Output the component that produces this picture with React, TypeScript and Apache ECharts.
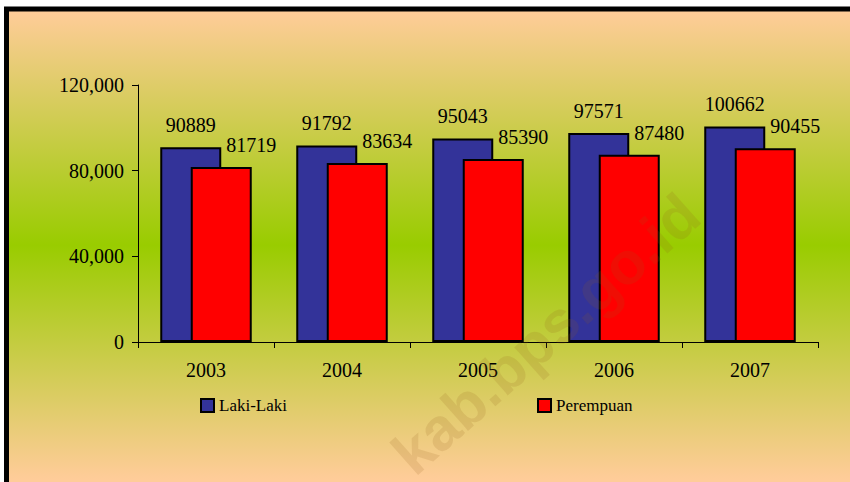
import React, { useEffect, useRef } from "react";
import * as echarts from "echarts";

const years = ["2003", "2004", "2005", "2006", "2007"];
const lakiLaki = [90889, 91792, 95043, 97571, 100662];
const perempuan = [81719, 83634, 85390, 87480, 90455];
const seriesNames = ["Laki-Laki", "Perempuan"];
const yTicks = { min: 0, max: 120000, interval: 40000 };
const watermarkText = "kab.bps.go.id";

const SERIF = "Liberation Serif";

export default function App() {
  const ref = useRef<HTMLDivElement>(null);
  useEffect(() => {
    if (!ref.current) return;
    const chart = echarts.init(ref.current, undefined, { renderer: "svg" });
    const bg = new echarts.graphic.LinearGradient(
      0, 11, 0, 479,
      [
        { offset: 0, color: "#FFCC99" },
        { offset: 0.5, color: "#99CC00" },
        { offset: 1, color: "#FFCC99" },
      ],
      true
    );
    const legendText = { fontFamily: SERIF, fontSize: 17, color: "#000" };
    chart.setOption({
      animation: false,
      backgroundColor: "#ffffff",
      textStyle: { fontFamily: SERIF, color: "#000" },
      graphic: [
        {
          type: "rect",
          z: -10,
          silent: true,
          shape: { x: 9, y: 11, width: 900, height: 500 },
          style: { fill: bg },
        },
        {
          type: "rect",
          z: -9,
          silent: true,
          shape: { x: 6.5, y: 9, width: 900, height: 600 },
          style: { fill: "none", stroke: "#000", lineWidth: 5 },
        },
        {
          type: "text",
          z: 100,
          silent: true,
          x: 546,
          y: 334,
          rotation: (41.6 * Math.PI) / 180,
          style: {
            text: watermarkText,
            font: "bold 60px 'Liberation Sans', Arial, sans-serif",
            fill: "rgba(150, 95, 30, 0.15)",
            align: "center",
            verticalAlign: "middle",
          },
        },
      ],
      grid: { left: 138, right: 32, top: 85, bottom: 140, containLabel: false },
      legend: [
        {
          data: [seriesNames[0]],
          left: 200,
          top: 397,
          itemWidth: 13,
          itemHeight: 13,
          icon: "rect",
          itemStyle: { borderColor: "#000", borderWidth: 2 },
          textStyle: legendText,
          padding: 0,
        },
        {
          data: [seriesNames[1]],
          left: 537,
          top: 397,
          itemWidth: 13,
          itemHeight: 13,
          icon: "rect",
          itemStyle: { borderColor: "#000", borderWidth: 2 },
          textStyle: legendText,
          padding: 0,
        },
      ],
      xAxis: {
        type: "category",
        data: years,
        axisLine: { lineStyle: { color: "#000", width: 1 } },
        axisTick: { show: true, length: 6, lineStyle: { color: "#000" } },
        axisLabel: { fontFamily: SERIF, fontSize: 20, color: "#000", margin: 18 },
      },
      yAxis: {
        type: "value",
        min: yTicks.min,
        max: yTicks.max,
        interval: yTicks.interval,
        splitLine: { show: false },
        axisLine: { show: true, lineStyle: { color: "#000", width: 1 } },
        axisTick: { show: true, length: 6, lineStyle: { color: "#000" } },
        axisLabel: {
          fontFamily: SERIF,
          fontSize: 20,
          color: "#000",
          margin: 14,
          formatter: (v: number) => v.toLocaleString("en-US"),
        },
      },
      series: [
        {
          name: seriesNames[0],
          type: "bar",
          data: lakiLaki,
          barWidth: 61,
          barGap: "-50%",
          itemStyle: { color: "#333399", borderColor: "#000", borderWidth: 2 },
          label: {
            show: true,
            position: "top",
            distance: 12,
            fontFamily: SERIF,
            fontSize: 20,
            color: "#000",
            formatter: "{c}",
          },
        },
        {
          name: seriesNames[1],
          type: "bar",
          data: perempuan,
          barWidth: 61,
          barGap: "-50%",
          itemStyle: { color: "#FF0000", borderColor: "#000", borderWidth: 2 },
          label: {
            show: true,
            position: "top",
            distance: 12,
            offset: [30, 0],
            fontFamily: SERIF,
            fontSize: 20,
            color: "#000",
            formatter: "{c}",
          },
        },
      ],
    });
    return () => chart.dispose();
  }, []);
  return (
    <div
      ref={ref}
      style={{ position: "fixed", left: 0, top: 0, width: 850, height: 482 }}
    />
  );
}
